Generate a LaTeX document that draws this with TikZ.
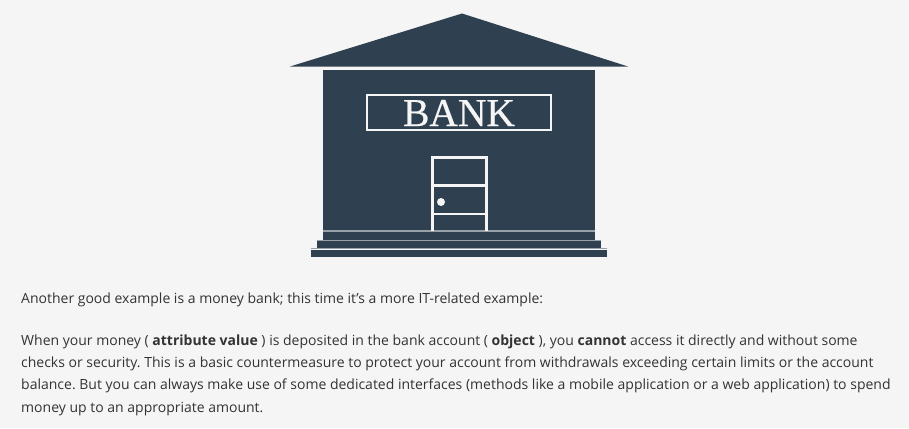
\documentclass[tikz,border=0pt]{standalone}
\usepackage{fontspec}
\setmainfont{Open Sans}
\newfontfamily\bankfont[FakeBold=0.6]{Liberation Serif}
\definecolor{bankblue}{HTML}{2F4050}
\definecolor{pagebg}{HTML}{F5F5F5}
\definecolor{inktext}{HTML}{333333}
\definecolor{seam}{HTML}{98A0A8}
\tikzset{
  bodytext/.style={anchor=base west,inner sep=0pt,text=inktext,font=\fontsize{14}{17}\selectfont},
  solidblue/.style={fill=bankblue,draw=none},
  whiteline/.style={draw=pagebg,line width=3pt},
  seamline/.style={draw=seam,line width=1.5pt}
}
\begin{document}
\begin{tikzpicture}[x=1pt,y=-1pt]
\frenchspacing
\useasboundingbox (0,0) rectangle (909,428);
\fill[pagebg] (0,0) rectangle (909,428);
% roof
\fill[solidblue] (290,66.5) -- (462,13.5) -- (628,66.5) -- cycle;
% wall
\fill[solidblue] (323,70) rectangle (595,231);
% steps
\fill[solidblue] (323,232) rectangle (595,239.5);
\fill[solidblue] (317,240.5) rectangle (601,248);
\fill[solidblue] (311,249.5) rectangle (607,257);
\draw[seamline] (323,231) -- (595,231);
\draw[draw=seam,line width=0.8pt] (317,240) -- (601,240);
\draw[draw=seam,line width=0.8pt] (311,248.7) -- (607,248.7);
% sign
\node[draw=pagebg,line width=2pt,minimum width=184pt,minimum height=35pt,inner sep=0pt,anchor=center] (sign) at (459,112) {};
\node[text=pagebg,inner sep=0pt,anchor=base,font=\bankfont\fontsize{39.5}{39.5}\selectfont] (banktext) at (459,126) {BANK};
% door
\draw[whiteline] (432.5,230.5) -- (432.5,157) -- (486,157) -- (486,230.5);
\draw[draw=pagebg,line width=2.2pt] (432.5,185.5) -- (486,185.5);
\draw[draw=pagebg,line width=2.2pt] (432.5,214) -- (486,214);
\fill[pagebg] (441,202) circle (4);
% text
\node[bodytext] (l1) at (21,303) {Another good example is a money bank; this time it’s a more IT-related example:};
\node[bodytext] (l2) at (21,345) {When your money ( \textbf{attribute value} ) is deposited in the bank account ( \textbf{object} ), you \textbf{cannot} access it directly and without some};
\node[bodytext] (l3) at (21,367) {checks or security. This is a basic countermeasure to protect your account from withdrawals exceeding certain limits or the account};
\node[bodytext] (l4) at (21,389) {balance. But you can always make use of some dedicated interfaces (methods like a mobile application or a web application) to spend};
\node[bodytext] (l5) at (21,412) {money up to an appropriate amount.};
\end{tikzpicture}
\end{document}
